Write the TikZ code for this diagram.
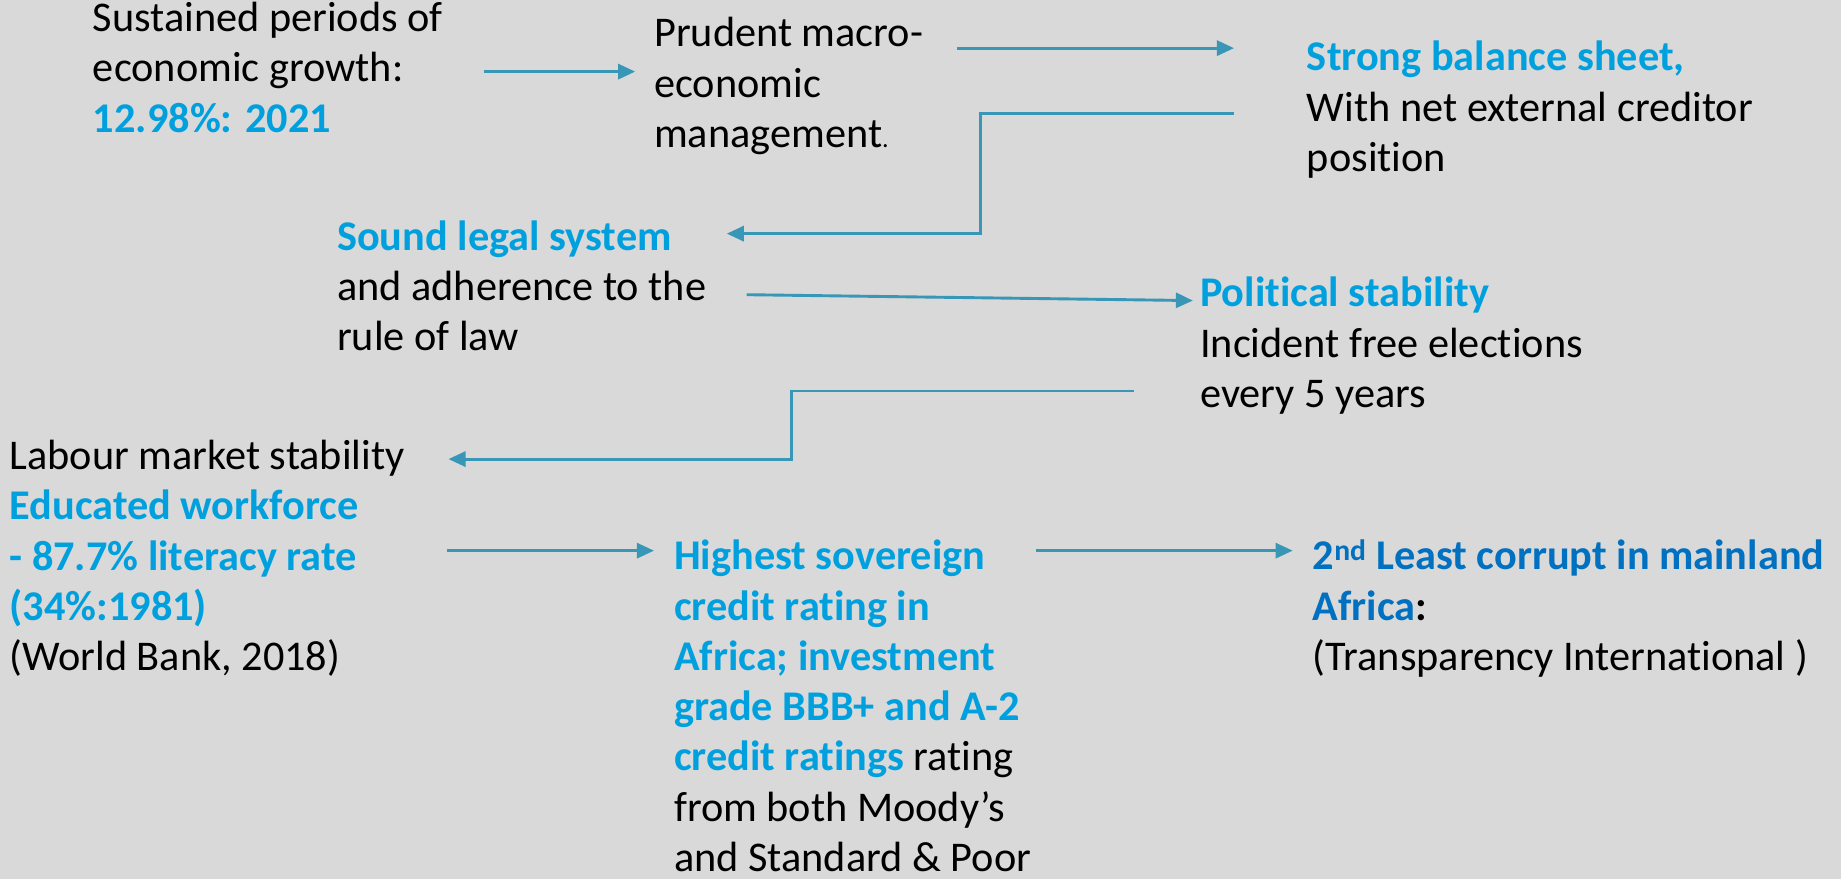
\documentclass[tikz,border=0pt]{standalone}
\usepackage{fontspec}
\setmainfont{Carlito}[Ligatures=NoCommon]
\usetikzlibrary{arrows.meta}

\definecolor{bgGray}{RGB}{217,217,217}
\definecolor{keyBlue}{RGB}{0,160,222}
\definecolor{deepBlue}{RGB}{0,112,192}
\definecolor{flowTeal}{RGB}{56,150,182}
\newcommand{\keyfact}[1]{\textcolor{keyBlue}{\textbf{#1}}}

\begin{document}
\begin{tikzpicture}[x=1.1741pt, y=-1.1741pt,
        point/.style={anchor=north west, inner sep=0pt, align=left, font=\fontsize{42.3}{50.3}\selectfont, execute at begin node=\strut},
        flow/.style={draw=flowTeal, line width=2.9pt, -{Triangle[length=17pt,width=15pt]}}]
            \useasboundingbox (0,0) rectangle (1568,748.7);
            \fill[bgGray] (0,0) rectangle (1568,748.7);

            \node[point] (growth) at (79,1.8) {Sustained periods of\\economic growth:\\\keyfact{12.98\%: 2021}};
            \node[point] (prudent) at (557,14.8) {Prudent macro-\\economic\\management{\fontsize{26}{50.3}\selectfont.}};
            \node[point] (balance) at (1113,34.8) {\keyfact{Strong balance sheet,}\\With net external creditor\\position};
            \node[point] (legal) at (287,187.8) {\keyfact{Sound legal system}\\and adherence to the\\rule of law};
            \node[point] (political) at (1022,235.8) {\keyfact{Political stability}\\Incident free elections\\every 5 years};
            \node[point] (labour) at (8,374.8) {Labour market stability\\\keyfact{Educated workforce}\\\keyfact{- 87.7\% literacy rate}\\\keyfact{(34\%:1981)}\\(World Bank, 2018)};
            \node[point] (rating) at (574,459.8) {\keyfact{Highest sovereign}\\\keyfact{credit rating in}\\\keyfact{Africa; investment}\\\keyfact{grade BBB+ and A-2}\\\keyfact{credit ratings} rating\\from both Moody’s\\and Standard \& Poor};
            \node[point] (corrupt) at (1118,459.8) {\textcolor{deepBlue}{\textbf{2\textsuperscript{nd} Least corrupt in mainland}}\\\textbf{\textcolor{deepBlue}{Africa}:}\\(Transparency International )};

            % connector ends sit in the gaps beside the texts
            \coordinate (growthOut) at (412,61);
            \coordinate (prudentIn) at (541,61);
            \coordinate (prudentOut) at (815,41);
            \coordinate (balanceIn) at (1051,41);
            \coordinate (balanceOut) at (1051,97);
            \coordinate (turnA) at (835,97);
            \coordinate (legalIn) at (619,199);
            \coordinate (legalOut) at (636,251);
            \coordinate (politicalIn) at (1016,256);
            \coordinate (politicalOut) at (966,333);
            \coordinate (turnB) at (674,333);
            \coordinate (labourIn) at (382,391);
            \coordinate (labourOut) at (381,469);
            \coordinate (ratingIn) at (557,469);
            \coordinate (ratingOut) at (882,469);
            \coordinate (corruptIn) at (1101,469);

            \draw[flow] (growthOut) -- (prudentIn);
            \draw[flow] (prudentOut) -- (balanceIn);
            \draw[flow] (balanceOut) -- (turnA) |- (legalIn);
            \draw[flow] (legalOut) -- (politicalIn);
            \draw[flow] (politicalOut) -- (turnB) |- (labourIn);
            \draw[flow] (labourOut) -- (ratingIn);
            \draw[flow] (ratingOut) -- (corruptIn);
        \end{tikzpicture}
\end{document}
